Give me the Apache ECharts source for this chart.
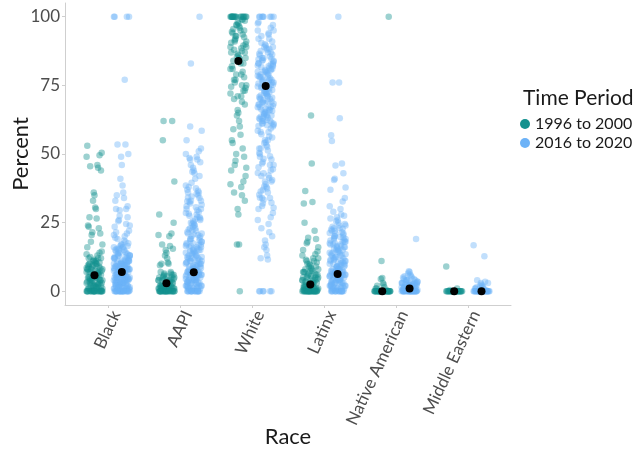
<!DOCTYPE html>
<html>
<head>
<meta charset="utf-8">
<script src="https://cdn.jsdelivr.net/npm/echarts@6/dist/echarts.min.js"></script>
<style>
html,body{margin:0;padding:0;background:#fff;}
#chart{width:641px;height:449px;}
</style>
</head>
<body>
<div id="chart"></div>
<script>
const categories = ['Black', 'AAPI', 'White', 'Latinx', 'Native American', 'Middle Eastern'];
const periods = ['1996 to 2000', '2016 to 2020'];
const yTicks = [0, 25, 50, 75, 100];
const means1996 = [5.8, 2.9, 83.9, 2.5, 0, 0];
const means2016 = [7.0, 6.9, 74.8, 6.3, 1.0, 0];

const black1996 = [53,50.5,49.5,49,46,45.5,45,44,36,35,33,30.5,30,27,26.5,24,23.5,23,21.5,21,20.5,18,17,16,14.5,14,13.5,13,12.5,12,12,11.5,11,11,10.5,10,10,10,9.5,9,9,9,8.5,8,8,8,8,7.5,7,7,7,7,6.5,6,6,6,6,5.5,5,5,5,5,5,4.5,4,4,4,4,4,3.5,3,3,3,3,3,2.5,2,2,2,2,2,1.5,1,1,1,1,1,0.5,0,0,0,0,0,0,0,0,0,0,0,0,0,0,0,0,
  11,10,9,8,7,6,5,4,3,2,1,0,0,10.5,8.5,6.5,4.5,2.5,0.5,0,0,9.5,7.5,5.5,3.5,1.5,0,12];
const black2016 = [100,100,100,100,77,53.5,53.5,50,49,46,41,38.5,36,35,34,33,30,30,29.5,27,26,25.5,24,23.5,22,21,20.5,20,19,18,17.5,17,17,16.5,16,16,15.5,15,15,14.5,14,14,13.5,13,13,13,12.5,12,12,12,11.5,11,11,11,11,10.5,10,10,10,10,9.5,9,9,9,9,9,8.5,8,8,8,8,8,7.5,7,7,7,7,7,7,6.5,6,6,6,6,6,6,5.5,5,5,5,5,5,5,4.5,4,4,4,4,4,4,3.5,3,3,3,3,3,3,2.5,2,2,2,2,2,2,1.5,1,1,1,1,1,1,0.5,0,0,0,0,0,0,0,0,0,0,0,0,
  16.5,15,14,13,12,11,10.5,10,9.5,9,8.5,8,7.5,7,6.5,6,5.5,5,4.5,4,3.5,3,2.5,2,1.5,1,0.5,0,0,0,16,14.5,13.5,12.5,11.5,10,9,8,7,6,5,4,3,2,1,0,0,0,15.5,13,12,11,9.5,8.5,7.5,6.5,5.5,4.5,3.5,2.5,1.5,0.5,0,0,
  18.5,19.5,21.5,24.5,27.5,31];
const aapi1996 = [62,62,55,40,28,25,21,20.5,20,17,16.5,15.5,15,14,13,12,10.5,10,10,9.5,7,6.5,6,6,5.5,5,5,5,4.5,4,4,4,4,3.5,3,3,3,3,3,2.5,2,2,2,2,2,2,1.5,1,1,1,1,1,1,1,0.5,0.5,0,0,0,0,0,0,0,0,0,0,0,0,0,0,0,0,0,0,
  6,5,4,3,2,1,0,0,5.5,4.5,3.5,2.5,1.5,0.5,0,0,7,6.5,3,2,1,0];
const aapi2016 = [100,83,60,58.5,55,52,51,50,49,48.5,48,47,45,44,43.5,43,41,38,37.5,37,36,35,34.5,34,33,32,31.5,31,30,29,28.5,28,27.5,27,26,25.5,25,24.5,24,23,22.5,22,21.5,21,20.5,20,19.5,19,18.5,18,17.5,17,17,16.5,16,16,15.5,15,15,14.5,14,14,13.5,13,13,12.5,12,12,12,11.5,11,11,11,10.5,10,10,10,9.5,9,9,9,9,8.5,8,8,8,8,7.5,7,7,7,7,7,6.5,6,6,6,6,6,5.5,5,5,5,5,5,4.5,4,4,4,4,4,3.5,3,3,3,3,3,2.5,2,2,2,2,2,1.5,1,1,1,1,1,0.5,0,0,0,0,0,0,0,0,0,0,
  19,18,17,16,15,14,13,12,11,10,9,8,7,6,5,4,3,2,1,0,0,18.5,16.5,14.5,12.5,10.5,8.5,6.5,4.5,2.5,0.5,0,20,17.5,15.5,13.5,11.5,9.5,7.5,5.5,3.5,1.5,0,0,27,25,23,21,30,33,36,
  38.5,35.5,32.5,29.5,26.5,23.5,20.8,22.2,24.2,26.2,28.2,30.6,32.8,34.2,36.6,39.5,42,46,48];
const white1996 = [100,100,100,100,100,100,100,100,100,100,100,100,100,100,99,98.5,98,97.5,97,96.5,96,95.5,95,94.5,94,93.5,93,92.5,92,91.5,91,90.5,90,89.5,89,88.5,88,87.5,87,86.5,86,85.5,85,84.5,84,83,82,81,80,79,78,77,76,75,74.5,74,73,72,71,70,69,68,66,65,64,62,60,59,57,55,54,52,50,49,47.5,46,45,44,42,40,39,38,36,35,33,30,28,17,17,0,
  100,100,100,100,99,97,95,93,91,89,87,85,83,81,79,77,75,73,71];
const white2016 = [100,100,100,100,100,100,100,100,98,97,96,95,94,93,92,91,90,89.5,89,88.5,88,87.5,87,86.5,86,85.5,85,84.7,84.2,84,83.6,83.1,83,82.6,82.2,82,81.7,81.3,81,80.6,80.2,80,79.8,79.3,79,78.7,78.2,78,77.6,77.1,77,76.8,76.3,76,75.7,75.2,75,74.6,74.1,74,73.8,73.3,73,72.6,72.2,72,71.7,71.3,71,70.8,70.2,70,69.6,69.1,69,68.7,68.3,68,67.5,67.1,67,66.6,66.2,66,65.7,65.3,65,64.5,64.1,64,63.6,63.2,63,62.7,62.1,62,61.5,61.2,61,60.6,60.2,60,59.3,58.5,58,57.2,56.4,56,55.1,54.3,54,53.2,52.6,52,51.3,50.4,50,49.2,48.3,48,47.1,46.5,46,45.2,44.4,44,43.1,42.2,42,41.3,40.5,40,39.1,38.2,38,37.4,36.3,36,35.2,34.1,34,33.3,32.2,32,31.1,30.4,30,28.5,27,26,24.5,23,21.5,20,18.5,17,16,15,13,12,11.6,0,0,0,0,0,0,
  85,84,83,82,81,80,79,78,77,76,75,74,73,72,71,70,69,68,67,66,65,64,63,62,61,84.5,82.5,80.5,78.5,76.5,74.5,72.5,70.5,68.5,66.5,64.5,62.5,60.5,58,55,52,49,46,43,40,37,34,95,92,89,87,
  97.5,93.5,90.5,88.2,86.2];
const latinx1996 = [64,46.5,36.5,32.5,32,25,22,19.5,19,18,17.5,16,15,14.5,13.5,13,12,11.5,11,10.5,10,9.5,9,8.5,8,8,7.5,7,7,6.5,6,6,5.5,5,5,5,4.5,4,4,4,3.5,3,3,3,3,2.5,2,2,2,2,2,1.5,1,1,1,1,1,1,0.5,0.5,0,0,0,0,0,0,0,0,0,0,0,0,0,0,0,0,0,0,0,0,
  8,7,6,5,4,3,2,1,0,0,7.5,6.5,5.5,4.5,3.5,2.5,1.5,0.5,0,0,9,10,11,12];
const latinx2016 = [100,76,76,63,56.8,54.7,46.5,45.8,43,41,40.5,37.8,37,34,32.7,31,30,29,28,27.5,27,26,25.5,25,24,23.5,23,22.5,22,21.5,21,20.5,20,19.5,19,18.5,18,18,17.5,17,17,16.5,16,16,15.5,15,15,14.5,14,14,13.5,13,13,12.5,12,12,11.5,11,11,11,10.5,10,10,10,9.5,9,9,9,8.5,8,8,8,8,7.5,7,7,7,7,6.5,6,6,6,6,6,5.5,5,5,5,5,5,4.5,4,4,4,4,4,3.5,3,3,3,3,3,2.5,2,2,2,2,2,1.5,1,1,1,1,1,0.5,0,0,0,0,0,0,0,0,0,
  20,19,18,17,16,15,14,13,12,11,10,9,8,7,6,5,4,3,2,1,0,0,19.5,17.5,15.5,13.5,11.5,9.5,7.5,5.5,3.5,1.5,0,18.5,16.5,14.5,12.5,10.5,8.5,6.5,4.5,2.5,0.5,0,0,21,22,23,24,
  26.5,24.5,22.8,21.2,19.8];
const native1996 = [100,11,4.8,4.5,3,2.5,2,1.5,1,1,0.5,0,0,0,0,0,0,0,0,0,0,0,0,0,0,0,0,0,0,0,0,0,0,0,0,0,0,0,0,0,0,0];
const native2016 = [19,7.3,7,6.5,6,5.5,5.5,5,5,4.5,4.5,4,4,4,3.5,3.5,3,3,3,3,2.5,2.5,2.5,2,2,2,2,2,1.5,1.5,1.5,1,1,1,1,1,1,0.5,0.5,0.5,0,0,0,0,0,0,0,0,0,0,0,0,0,0,0,0,0,0,0,0,
  4,3.5,3,2.5,2,1.5,1,0.5,0,0,3,2,1,0,2.5,1.5,0.5,0];
const me1996 = [9,1,0.5,0,0,0,0,0,0,0,0,0,0,0,0,0,0,0,0,0,0,0,0,0,0,0,0,0,0,0,0,0,0];
const me2016 = [16.8,12.8,4,3.5,3,3,2.5,2,2,1.5,1.5,1,1,1,0.5,0.5,0,0,0,0,0,0,0,0,0,0,0,0,0,0,0,0,0,0,0,0,0,0,0,0,0];

// horizontal jitter offsets (category units), reused cyclically
const jitter = [-0.1,0.03,-0.06,0.08,-0.02,0.1,-0.09,0.05,-0.04,0.01,0.07,-0.08,0.09,-0.05,0.02,-0.11,0.06,-0.01,0.11,-0.07,0.04,-0.03,0.0];

const values1996 = [black1996, aapi1996, white1996, latinx1996, native1996, me1996];
const values2016 = [black2016, aapi2016, white2016, latinx2016, native2016, me2016];
const DODGE = 0.19;

function points(groups, side) {
  const out = [];
  groups.forEach((arr, i) => {
    arr.forEach((v, k) => {
      out.push([i + 1 + side * DODGE + jitter[(k * 5 + i * 3) % jitter.length], v]);
    });
  });
  return out;
}
function meanPoints(means, side) {
  return means.map((m, i) => [i + 1 + side * DODGE, m]);
}

const FONT = 'Lato';
const chart = echarts.init(document.getElementById('chart'), null, {renderer: 'canvas'});
chart.setOption({
  animation: false,
  backgroundColor: '#ffffff',
  textStyle: {fontFamily: FONT},
  title: {
    text: 'Time Period',
    left: 518, top: 83,
    textStyle: {fontFamily: FONT, fontSize: 21, fontWeight: 'normal', color: '#1a1a1a'}
  },
  legend: {
    orient: 'vertical',
    left: 515, top: 111,
    icon: 'circle',
    itemWidth: 10, itemHeight: 10, itemGap: 3,
    data: periods.map(p => ({name: p, itemStyle: {opacity: 1}})),
    textStyle: {fontFamily: FONT, fontSize: 16, color: '#1a1a1a'}
  },
  grid: {left: 65, right: 130, top: 3, bottom: 144, outerBoundsMode: 'none', containLabel: false},
  xAxis: {
    type: 'value', min: 0.4, max: 6.6,
    name: 'Race', nameLocation: 'middle', nameGap: 121, nameMoveOverlap: false,
    nameTextStyle: {fontFamily: FONT, fontSize: 22, color: '#1a1a1a', verticalAlign: 'top'},
    axisLine: {show: true, onZero: false, lineStyle: {color: '#cfcfcf', width: 1}},
    axisTick: {show: true, customValues: [1,2,3,4,5,6], length: 3, lineStyle: {color: '#cfcfcf'}},
    axisLabel: {
      customValues: [1,2,3,4,5,6],
      rotate: 65, margin: 3, verticalAlign: 'top',
      formatter: v => categories[Math.round(v) - 1] || '',
      fontFamily: FONT, fontSize: 17, color: '#4d4d4d'
    },
    splitLine: {show: false}
  },
  yAxis: {
    type: 'value', min: -5, max: 105,
    name: 'Percent', nameLocation: 'middle', nameGap: 33, nameRotate: 90, nameMoveOverlap: false,
    nameTextStyle: {fontFamily: FONT, fontSize: 22, color: '#1a1a1a'},
    axisLine: {show: true, onZero: false, lineStyle: {color: '#cfcfcf', width: 1}},
    axisTick: {show: true, customValues: yTicks, length: 3, lineStyle: {color: '#cfcfcf'}},
    axisLabel: {customValues: yTicks, margin: 5, fontFamily: FONT, fontSize: 17, color: '#4d4d4d'},
    splitLine: {show: false}
  },
  series: [
    {
      name: periods[0], type: 'scatter', symbolSize: 6.5,
      itemStyle: {color: '#13918e', opacity: 0.42},
      emphasis: {disabled: true},
      data: points(values1996, -1)
    },
    {
      name: periods[1], type: 'scatter', symbolSize: 6.5,
      itemStyle: {color: '#6cb2f7', opacity: 0.42},
      emphasis: {disabled: true},
      data: points(values2016, 1)
    },
    {
      name: 'mean1996', type: 'scatter', symbolSize: 8, z: 5,
      itemStyle: {color: '#000000', opacity: 1},
      emphasis: {disabled: true},
      data: meanPoints(means1996, -1)
    },
    {
      name: 'mean2016', type: 'scatter', symbolSize: 8, z: 5,
      itemStyle: {color: '#000000', opacity: 1},
      emphasis: {disabled: true},
      data: meanPoints(means2016, 1)
    }
  ]
});
</script>
</body>
</html>
